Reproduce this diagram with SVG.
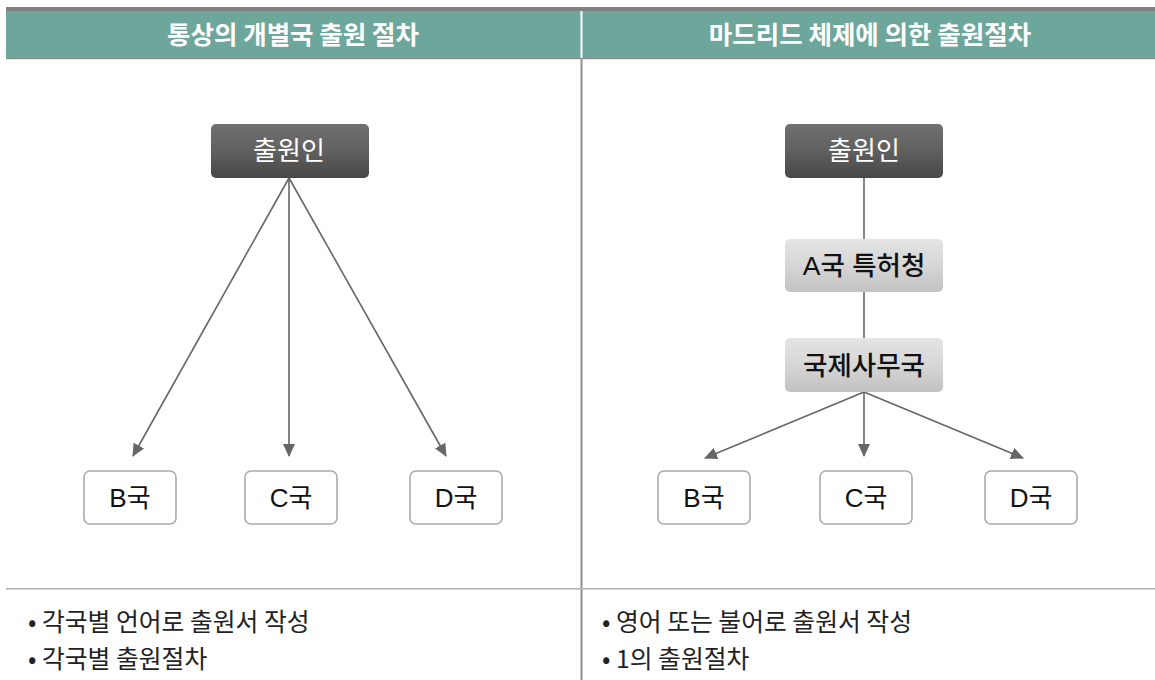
<svg xmlns="http://www.w3.org/2000/svg" width="1155" height="680" viewBox="0 0 1155 680">
<defs>
<linearGradient id="gDark" x1="0" y1="0" x2="0" y2="1">
<stop offset="0" stop-color="#707070"/>
<stop offset="0.5" stop-color="#606060"/>
<stop offset="1" stop-color="#474747"/>
</linearGradient>
<linearGradient id="gLight" x1="0" y1="0" x2="0" y2="1">
<stop offset="0" stop-color="#e4e4e4"/>
<stop offset="0.5" stop-color="#d6d6d6"/>
<stop offset="1" stop-color="#c2c2c2"/>
</linearGradient>
<marker id="arr" markerWidth="13" markerHeight="12" refX="12" refY="6" orient="auto" markerUnits="userSpaceOnUse">
<path d="M0,0 L13,6 L0,12 Z" fill="#666"/>
</marker>
</defs>
<style>
.hdr{font-family:"Noto Sans CJK KR","Noto Sans",sans-serif;font-weight:bold;font-size:25.5px;fill:#fff;text-anchor:middle}
.dk{fill:url(#gDark)}
.lt{fill:url(#gLight)}
.dkt{font-family:"Noto Sans CJK KR",sans-serif;font-size:26px;fill:#fff;text-anchor:middle}
.ltt{font-family:"Liberation Sans","Noto Sans CJK KR",sans-serif;font-size:26.5px;font-weight:500;fill:#111;text-anchor:middle}
.cbox{fill:#fff;stroke:#aaa;stroke-width:1.6}
.ct{font-family:"Liberation Sans","Noto Sans CJK KR",sans-serif;font-size:26px;fill:#111;text-anchor:middle}
.conn{stroke:#666;stroke-width:1.6;fill:none}
.bul{font-family:"Noto Sans CJK KR",sans-serif;font-size:24.8px;fill:#222}
</style>
<rect x="0" y="0" width="1155" height="680" fill="#fff"/>
<g id="frame">
<rect x="6" y="7" width="1149" height="4" fill="#808080"/>
<rect x="6" y="11" width="1149" height="47" fill="#6da79c"/>
<rect x="6" y="58" width="1149" height="1.2" fill="#8a8a8a"/>
<rect x="580.5" y="11" width="2" height="47" fill="#fff"/>
<rect x="580.5" y="59" width="2" height="621" fill="#8f8f8f"/>
<rect x="6" y="588" width="1149" height="1.6" fill="#b5b5b5"/>
<text class="hdr" x="293" y="44">통상의 개별국 출원 절차</text>
<text class="hdr" x="870" y="44">마드리드 체제에 의한 출원절차</text>
</g>
<g id="connectors">
<line class="conn" x1="289" y1="178" x2="133" y2="456" marker-end="url(#arr)"/>
<line class="conn" x1="289" y1="178" x2="289" y2="456" marker-end="url(#arr)"/>
<line class="conn" x1="289" y1="178" x2="446" y2="456" marker-end="url(#arr)"/>
<line class="conn" x1="864" y1="178" x2="864" y2="239"/>
<line class="conn" x1="864" y1="292" x2="864" y2="338"/>
<line class="conn" x1="864" y1="392" x2="705" y2="458" marker-end="url(#arr)"/>
<line class="conn" x1="864" y1="392" x2="864" y2="456" marker-end="url(#arr)"/>
<line class="conn" x1="864" y1="392" x2="1023" y2="458" marker-end="url(#arr)"/>
</g>
<g id="applicant-left">
<rect class="dk" x="211" y="124" width="158" height="54" rx="5"/>
<text class="dkt" x="289" y="160">출원인</text>
</g>
<g id="b-left"><rect class="cbox" x="84" y="471" width="92" height="53" rx="6"/><text class="ct" x="130" y="507">B국</text></g>
<g id="c-left"><rect class="cbox" x="245" y="471" width="92" height="53" rx="6"/><text class="ct" x="291" y="507">C국</text></g>
<g id="d-left"><rect class="cbox" x="410" y="471" width="92" height="53" rx="6"/><text class="ct" x="456" y="507">D국</text></g>
<g id="applicant-right">
<rect class="dk" x="785" y="124" width="158" height="54" rx="5"/>
<text class="dkt" x="864" y="160">출원인</text>
</g>
<g id="office-a">
<rect class="lt" x="785" y="239" width="158" height="53" rx="5"/>
<text class="ltt" x="864" y="275">A국 특허청</text>
</g>
<g id="intl-bureau">
<rect class="lt" x="785" y="338" width="158" height="54" rx="5"/>
<text class="ltt" x="864" y="375">국제사무국</text>
</g>
<g id="b-right"><rect class="cbox" x="658" y="471" width="92" height="53" rx="6"/><text class="ct" x="704" y="507">B국</text></g>
<g id="c-right"><rect class="cbox" x="820" y="471" width="92" height="53" rx="6"/><text class="ct" x="866" y="507">C국</text></g>
<g id="d-right"><rect class="cbox" x="985" y="471" width="92" height="53" rx="6"/><text class="ct" x="1031" y="507">D국</text></g>
<g id="notes">
<text class="bul" x="28" y="631">• 각국별 언어로 출원서 작성</text>
<text class="bul" x="28" y="668">• 각국별 출원절차</text>
<text class="bul" x="602" y="631">• 영어 또는 불어로 출원서 작성</text>
<text class="bul" x="602" y="668">• 1의 출원절차</text>
</g>
</svg>
